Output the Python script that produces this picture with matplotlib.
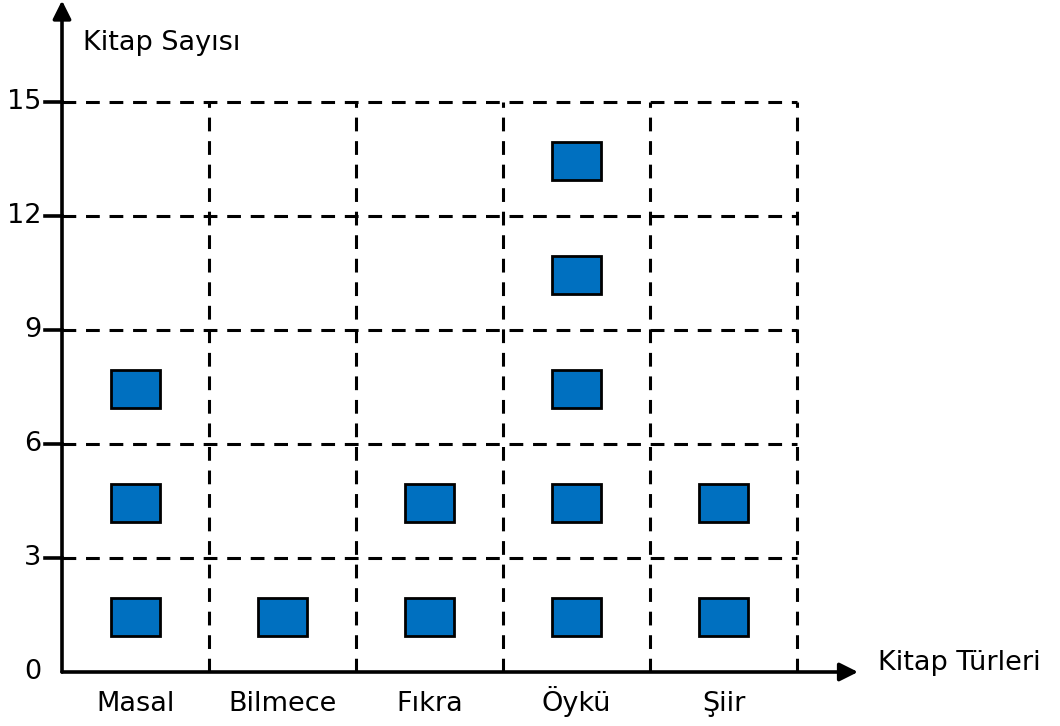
import matplotlib.pyplot as plt
from matplotlib.patches import Rectangle

# Kitap türleri ve sayıları (her kare 3 kitap)
turler = ['Masal', 'Bilmece', 'Fıkra', 'Öykü', 'Şiir']
kitap_sayisi = [9, 3, 6, 15, 6]
birim = 3
y_ticks = [0, 3, 6, 9, 12, 15]

mavi = '#0070C0'
plt.rcParams['font.family'] = ['DejaVu Sans']
fs = 19.5

fig = plt.figure(figsize=(10.6, 7.26), dpi=100)
W, H = 1060, 726
x0, y0, x1, y1 = 62, 672, 797, 102
ax = fig.add_axes([x0 / W, (H - y0) / H, (x1 - x0) / W, (y0 - y1) / H])
ax.set_xlim(0, len(turler))
ax.set_ylim(0, 15)
ax.axis('off')

# kesikli ızgara
dash = (0, (4.5, 3.2))
for yv in y_ticks[1:]:
    ax.plot([0, len(turler)], [yv, yv], color='black', lw=2.2,
            ls=dash, clip_on=False)
for i in range(1, len(turler) + 1):
    ax.plot([i, i], [0, 15], color='black', lw=2.2,
            ls=dash, clip_on=False)

# eksenler (oklu)
ok = dict(arrowstyle='-|>,head_length=1.1,head_width=0.55',
          color='black', lw=2.6, shrinkA=0, shrinkB=0)
ax.annotate('', xy=(0, 1.178), xytext=(0, 0), xycoords='axes fraction',
            arrowprops=ok)
ax.annotate('', xy=(1.083, 0), xytext=(0, 0), xycoords='axes fraction',
            arrowprops=ok)

# y çentikleri ve etiketleri
for yv in y_ticks:
    if yv > 0:
        ax.plot([-0.115, 0], [yv, yv], color='black', lw=2.6, clip_on=False)
    ax.text(-0.14, yv, str(yv), ha='right', va='center', fontsize=fs)

# kareler
kw, kh = 0.34, 1.0
for i, (tur, sayi) in enumerate(zip(turler, kitap_sayisi)):
    for k in range(sayi // birim):
        cy = k * birim + 1.45
        ax.add_patch(Rectangle((i + 0.5 - kw / 2, cy - kh / 2), kw, kh,
                               facecolor=mavi, edgecolor='black', lw=2.0))
    ax.text(i + 0.5, -1.03, tur, ha='center', va='baseline', fontsize=fs)

ax.text(0.14, 16.55, 'Kitap Sayısı', ha='left', va='center', fontsize=fs)
ax.text(5.55, 0.24, 'Kitap Türleri', ha='left', va='center', fontsize=fs)

fig.savefig('out.png', dpi=100)
